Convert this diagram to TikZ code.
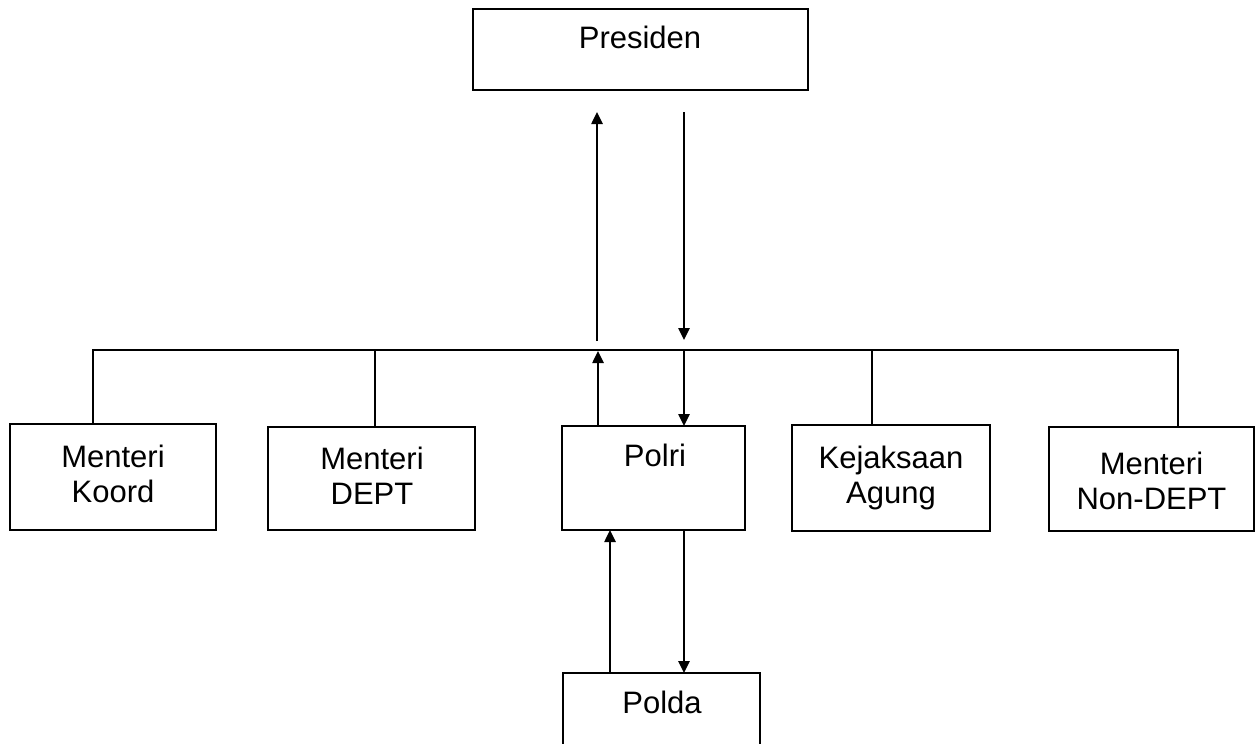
\documentclass[tikz,border=0pt]{standalone}
\usepackage{fontspec}
\setmainfont{Liberation Sans}
\usetikzlibrary{arrows.meta,calc}
\begin{document}
\begin{tikzpicture}[x=1pt,y=-1pt,
  box/.style={draw,line width=2.2pt,inner sep=0pt,outer sep=0pt,rectangle},
  txt/.style={inner sep=0pt,anchor=base,align=center,font=\fontsize{31}{35}\selectfont},
  conn/.style={line width=1.8pt},
  arr/.style={line width=2.5pt,-{Triangle[length=12pt,width=11pt]}}]
\clip (0,0) rectangle (1256,744);
\useasboundingbox (0,0) rectangle (1256,744);
% boxes
\node[box,minimum width=335pt,minimum height=81pt] (pres) at (640.5,49.5) {};
\node[box,minimum width=206pt,minimum height=106pt] (koord) at (113,477) {};
\node[box,minimum width=207pt,minimum height=103pt] (dept) at (371.5,478.5) {};
\node[box,minimum width=183pt,minimum height=104pt] (polri) at (653.5,478) {};
\node[box,minimum width=198pt,minimum height=106pt] (kej) at (891,478) {};
\node[box,minimum width=205pt,minimum height=104pt] (nond) at (1151.5,479) {};
\node[box,minimum width=197pt,minimum height=107pt] (polda) at (661.5,726.5) {};
% texts
\node[txt] (tpres) at (640,48) {Presiden};
\node[txt] (tkoord) at (113,502) {Menteri\\Koord};
\node[txt] (tdept) at (372,504) {Menteri\\DEPT};
\node[txt] (tpolri) at (655,466) {Polri};
\node[txt] (tkej) at (891,503) {Kejaksaan\\Agung};
\node[txt] (tnond) at (1151.5,509) {Menteri\\Non-DEPT};
\node[txt] (tpolda) at (662,713) {Polda};
% bus
\coordinate (busL) at (93,350);
\coordinate (busR) at (1178,350);
\draw[conn] (koord.north -| busL) -- (busL) -- (busR) -- (nond.north -| busR);
\draw[conn] (dept.north -| 375,0) -- (375,350);
\draw[conn] (kej.north -| 872,0) -- (872,350);
% arrows Polri <-> bus
\draw[arr] (polri.north -| 598,0) -- (598,351);
\draw[arr] (684,350) -- (polri.north -| 684,0);
% arrows bus <-> Presiden
\coordinate (upS) at (597,341);
\coordinate (upE) at (597,112);
\coordinate (dnS) at (684,112);
\coordinate (dnE) at (684,340);
\draw[arr] (upS) -- (upE);
\draw[arr] (dnS) -- (dnE);
% Polri <-> Polda
\draw[arr] (polda.north -| 610,0) -- (polri.south -| 610,0);
\draw[arr] (polri.south -| 684,0) -- (polda.north -| 684,0);
\end{tikzpicture}
\end{document}
